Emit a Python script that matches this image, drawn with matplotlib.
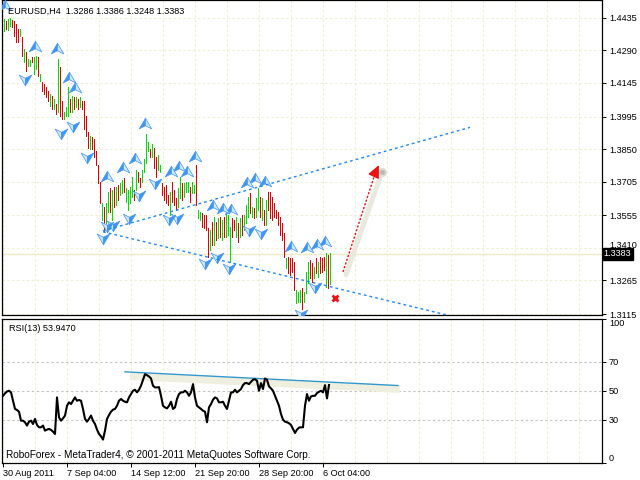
import matplotlib
matplotlib.use('Agg')
import matplotlib.pyplot as plt
import matplotlib.transforms as mtransforms
from matplotlib.path import Path
import numpy as np

# EURUSD H4 bars (high / low, G = up bar, R = down bar)
highs = [1.4430, 1.4421, 1.4430, 1.4434, 1.4425, 1.4421, 1.4407, 1.4385, 1.4385, 1.4349,
         1.4296, 1.4282, 1.4251, 1.4246, 1.4260, 1.4260, 1.4264, 1.4260, 1.4184, 1.4148,
         1.4139, 1.4126, 1.4108, 1.4094, 1.4085, 1.4072, 1.4050, 1.4251, 1.4215, 1.4063,
         1.4014, 1.4036, 1.4126, 1.4072, 1.4085, 1.4081, 1.4081, 1.4072, 1.4081, 1.4063,
         1.4063, 1.3996, 1.3925, 1.3907, 1.3902, 1.3893, 1.3840, 1.3781, 1.3705, 1.3612,
         1.3594, 1.3612, 1.3661, 1.3679, 1.3670, 1.3683, 1.3683, 1.3692, 1.3701, 1.3714,
         1.3723, 1.3679, 1.3670, 1.3683, 1.3728, 1.3670, 1.3759, 1.3746, 1.3723, 1.3759,
         1.3804, 1.3916, 1.3880, 1.3849, 1.3871, 1.3857, 1.3813, 1.3826, 1.3781, 1.3701,
         1.3683, 1.3692, 1.3647, 1.3661, 1.3705, 1.3670, 1.3634, 1.3679, 1.3728, 1.3701,
         1.3701, 1.3705, 1.3705, 1.3683, 1.3705, 1.3692, 1.3781, 1.3580, 1.3571, 1.3567,
         1.3558, 1.3558, 1.3500, 1.3491, 1.3527, 1.3549, 1.3527, 1.3545, 1.3549, 1.3536,
         1.3549, 1.3567, 1.3558, 1.3504, 1.3545, 1.3536, 1.3549, 1.3522, 1.3545, 1.3558,
         1.3558, 1.3603, 1.3638, 1.3656, 1.3594, 1.3589, 1.3634, 1.3679, 1.3638, 1.3634,
         1.3580, 1.3625, 1.3661, 1.3661, 1.3638, 1.3612, 1.3580, 1.3571, 1.3549, 1.3522,
         1.3478, 1.3366, 1.3370, 1.3366, 1.3366, 1.3348, 1.3223, 1.3214, 1.3223, 1.3232,
         1.3214, 1.3303, 1.3348, 1.3357, 1.3343, 1.3326, 1.3366, 1.3348, 1.3370, 1.3366,
         1.3370, 1.3388, 1.3379, 1.3386]
lows = [1.4376, 1.4385, 1.4380, 1.4398, 1.4394, 1.4354, 1.4327, 1.4327, 1.4354, 1.4264,
        1.4237, 1.4197, 1.4220, 1.4220, 1.4237, 1.4184, 1.4206, 1.4175, 1.4152, 1.4108,
        1.4094, 1.4081, 1.4063, 1.4041, 1.4027, 1.4027, 1.4005, 1.4014, 1.3996, 1.3983,
        1.3983, 1.3996, 1.3996, 1.4014, 1.4014, 1.4027, 1.4036, 1.4027, 1.4036, 1.4027,
        1.3938, 1.3907, 1.3857, 1.3849, 1.3849, 1.3817, 1.3781, 1.3701, 1.3612, 1.3536,
        1.3482, 1.3522, 1.3571, 1.3571, 1.3536, 1.3594, 1.3603, 1.3625, 1.3647, 1.3656,
        1.3661, 1.3616, 1.3580, 1.3612, 1.3638, 1.3625, 1.3670, 1.3705, 1.3683, 1.3705,
        1.3746, 1.3790, 1.3840, 1.3817, 1.3817, 1.3768, 1.3728, 1.3759, 1.3746, 1.3647,
        1.3625, 1.3612, 1.3603, 1.3558, 1.3616, 1.3603, 1.3580, 1.3594, 1.3634, 1.3625,
        1.3638, 1.3661, 1.3661, 1.3616, 1.3656, 1.3656, 1.3603, 1.3545, 1.3536, 1.3504,
        1.3500, 1.3491, 1.3370, 1.3402, 1.3424, 1.3424, 1.3446, 1.3455, 1.3460, 1.3446,
        1.3460, 1.3460, 1.3469, 1.3348, 1.3460, 1.3491, 1.3460, 1.3437, 1.3460, 1.3469,
        1.3491, 1.3522, 1.3549, 1.3567, 1.3549, 1.3545, 1.3549, 1.3580, 1.3549, 1.3536,
        1.3513, 1.3513, 1.3580, 1.3545, 1.3536, 1.3549, 1.3545, 1.3513, 1.3469, 1.3446,
        1.3370, 1.3321, 1.3299, 1.3290, 1.3303, 1.3223, 1.3165, 1.3169, 1.3169, 1.3138,
        1.3169, 1.3209, 1.3254, 1.3276, 1.3258, 1.3276, 1.3299, 1.3281, 1.3299, 1.3303,
        1.3312, 1.3236, 1.3232, 1.3248]
bar_dir = ("GRGGRRRRGR" "GRGGRGGRGR" "RRRGRGRGRR" "GGGRGRGRGR" "RRRGRRRRRG"
           "RGGRGRGRGG" "RGGGGRGRRG" "GGGRGRRGGR" "RRRGRRRGGR" "GGGRGGRGGR"
           "RRRGRGRGRG" "RGGGRRGRGR" "GGGRGRGGRG" "RGRRRRRRRR" "RGRRRRGGGR"
           "GGGRRGRGRR" "RGRG")

rsi = [46.5, 48.2, 49.5, 50.0, 48.9, 43.1, 37.4, 36.7, 35.5, 29.3,
       29.3, 28.2, 25.9, 28.6, 29.3, 27.0, 30.5, 26.3, 24.7, 24.7,
       25.9, 22.4, 23.1, 23.6, 22.9, 21.7, 20.1, 45.4, 31.6, 29.3,
       30.9, 32.8, 39.6, 42.0, 40.8, 43.1, 45.4, 43.1, 43.6, 43.1,
       37.4, 30.5, 28.6, 30.5, 32.8, 29.3, 27.0, 23.1, 20.1, 18.5,
       16.2, 22.4, 30.5, 33.2, 35.5, 36.9, 37.4, 39.6, 43.1, 44.3,
       43.1, 42.4, 42.0, 45.4, 47.7, 50.0, 50.7, 48.9, 50.7, 53.5,
       57.6, 61.5, 60.8, 59.9, 58.5, 53.5, 52.3, 52.3, 52.5, 46.5,
       39.6, 38.5, 37.8, 39.6, 42.4, 37.4, 38.5, 44.3, 47.7, 48.9,
       48.9, 50.0, 48.9, 46.5, 48.9, 54.6, 45.4, 39.6, 38.5, 37.4,
       36.2, 35.5, 28.2, 38.5, 40.8, 43.8, 45.4, 44.7, 42.0, 42.0,
       42.4, 39.6, 37.4, 43.1, 48.9, 48.9, 50.7, 48.9, 50.0, 51.2,
       53.9, 55.3, 55.3, 54.6, 56.2, 57.6, 58.0, 56.9, 50.0, 55.3,
       51.2, 58.5, 57.6, 53.0, 51.6, 50.0, 46.5, 43.1, 39.6, 33.9,
       30.0, 28.6, 28.2, 27.5, 26.3, 23.6, 20.8, 23.1, 24.5, 24.7,
       24.7, 39.6, 47.7, 43.1, 46.1, 46.5, 46.5, 48.4, 49.3, 50.0,
       48.9, 53.9, 44.7, 53.947]

# fractal arrows (bar index, price of arrow)
up_frac_idx = [1, 16, 27, 33, 36, 52, 60, 66, 71, 84, 88, 92, 96, 105, 110, 114,
               122, 126, 131, 144, 152, 157, 161]
up_frac_price = [1.4488, 1.4304, 1.4296, 1.4166, 1.4121, 1.3728, 1.3768, 1.3808, 1.3960,
                 1.3750, 1.3772, 1.3750, 1.3817, 1.3598, 1.3585, 1.3580, 1.3701, 1.3719,
                 1.3705, 1.3415, 1.3410, 1.3424, 1.3437]
dn_frac_idx = [11, 29, 35, 42, 50, 52, 55, 63, 68, 76, 83, 87, 101, 107, 113, 123,
               129, 149, 156]
dn_frac_price = [1.4161, 1.3920, 1.3951, 1.3817, 1.3455, 1.3509, 1.3513, 1.3545, 1.3647,
                 1.3701, 1.3540, 1.3545, 1.3343, 1.3370, 1.3321, 1.3491, 1.3477, 1.3115,
                 1.3236]

price_ticks = [1.4435, 1.4290, 1.4145, 1.3995, 1.3850, 1.3705, 1.3555, 1.3410, 1.3265, 1.3115]
price_labels = ['1.4435', '1.4290', '1.4145', '1.3995', '1.3850', '1.3705', '1.3555',
                '1.3410', '1.3265', '1.3115']
time_idx = [0, 32, 64, 96, 128, 160]
time_labels = ['30 Aug 2011', '7 Sep 04:00', '14 Sep 12:00', '21 Sep 20:00',
               '28 Sep 20:00', '6 Oct 04:00']
rsi_ticks = [0, 30, 50, 70, 100]

last_price = 1.3383
upper_line_idx = [50, 233.5]
upper_line_price = [1.3486, 1.3947]
lower_line_idx = [50, 222]
lower_line_price = [1.3482, 1.3111]
arrow_idx = [170, 188.5]
arrow_price = [1.3303, 1.3790]
cross_idx, cross_price = 166, 1.3187
rsi_line_idx = [61, 197.5]
rsi_line_val = [63.1, 53.6]
rsi_band_idx = [63.5, 198.5]
rsi_band_val = [60.1, 51.2]

plt.rcParams['font.family'] = ['Liberation Sans', 'DejaVu Sans']
FS = 6.6
W, H = 640, 480
GRID = '#eeeed2'

fig = plt.figure(figsize=(6.4, 4.8), dpi=100)
ax = fig.add_axes([2 / W, 1 - 315 / H, 600 / W, 315 / H])
ax2 = fig.add_axes([2 / W, 1 - 463 / H, 600 / W, (463 - 318.5) / H])

x = np.arange(len(highs))
cols = ['#00dd00' if d == 'G' else '#e00000' for d in bar_dir]

# --- price panel ---
ax.set_xlim(-0.5, 299.5)
ax.set_ylim(1.3111, 1.45145)
ax.set_yticks(price_ticks)
ax.set_yticklabels(price_labels)
ax.set_xticks(np.arange(0, 300, 16))
ax.tick_params(axis='x', length=0, labelbottom=False)
ax.yaxis.tick_right()
ax.tick_params(axis='y', direction='out', length=3, width=0.7, labelsize=FS, pad=2)
ax.grid(True, color=GRID, linestyle=(0, (2.2, 2.2)), linewidth=0.8)
ax.set_axisbelow(True)
for s in ax.spines.values():
    s.set_linewidth(0.9)
# the 1.3410 label sits just above the black price box
for lb in ax.get_yticklabels():
    if lb.get_text() == '1.3410':
        lb.set_transform(lb.get_transform() +
                         mtransforms.ScaledTranslation(0, 3 / 100, fig.dpi_scale_trans))

ax.axhline(last_price, color='#ecebc6', lw=1.0, zorder=1)
ax.vlines(x + 0.25, lows, highs, colors=cols, lw=0.5, zorder=3, antialiased=False)

# fractal arrows, two-tone halves
up_l = Path([(0, 1), (-1, -0.7), (0, -0.2), (0, 1)], closed=True)
up_r = Path([(0, 1), (0, -0.2), (1, -0.7), (0, 1)], closed=True)
dn_l = Path([(0, -1), (-1, 0.7), (0, 0.2), (0, -1)], closed=True)
dn_r = Path([(0, -1), (0, 0.2), (1, 0.7), (0, -1)], closed=True)
for mk, fc in ((up_l, '#3f95f2'), (up_r, '#cfe6ff')):
    ax.plot(up_frac_idx, up_frac_price, ls='none', marker=mk, ms=9, mfc=fc,
            mec='#3f95f2', mew=0.5, zorder=4)
for mk, fc in ((dn_l, '#cfe6ff'), (dn_r, '#3f95f2')):
    ax.plot(dn_frac_idx, dn_frac_price, ls='none', marker=mk, ms=9, mfc=fc,
            mec='#3f95f2', mew=0.5, zorder=4)

ax.plot(upper_line_idx, upper_line_price, color='#1e88ee', lw=1.0,
        linestyle=(0, (2, 2.2)), zorder=5)
ax.plot(lower_line_idx, lower_line_price, color='#1e88ee', lw=1.0,
        linestyle=(0, (2, 2.2)), zorder=5)

# forecast arrow with its grey shadow
ax.plot([arrow_idx[0] + 1.5, arrow_idx[1] + 1.0], [arrow_price[0] - 0.0012, arrow_price[1] - 0.0040],
        color='#e9e9dd', lw=3.6, solid_capstyle='round', zorder=2)
ax.plot([arrow_idx[1] + 1.0], [arrow_price[1] - 0.0040], 'o', ms=5, color='#b8b8b0',
        mec='#dcdcd4', mew=1.5, zorder=2)
ax.plot([arrow_idx[0], arrow_idx[1] - 2.2], [arrow_price[0], arrow_price[1] - 0.0042],
        color='#ee1111', lw=1.0, linestyle=(0, (1.6, 1.2)), zorder=6)
ax.annotate('', xy=(arrow_idx[1], arrow_price[1]),
            xytext=(arrow_idx[1] - 2.6, arrow_price[1] - 0.0050),
            arrowprops=dict(arrowstyle='-|>,head_length=0.75,head_width=0.35',
                            color='#ee1111', lw=1.0), zorder=6)
ax.plot([cross_idx], [cross_price], marker='x', ms=4.5, mew=2.0, color='#ee1111', zorder=6)

ax.text(1.003, last_price, '1.3383', transform=ax.get_yaxis_transform(), color='white',
        fontsize=FS, va='center', ha='left', zorder=10,
        bbox=dict(boxstyle='square,pad=0.12', fc='black', ec='black'))
fig.text(8 / W, 1 - 11 / H, 'EURUSD,H4  1.3286 1.3386 1.3248 1.3383', fontsize=FS,
         va='center', ha='left')

# --- RSI panel ---
ax2.set_xlim(-0.5, 299.5)
ax2.set_ylim(0, 100)
ax2.set_xticks(np.arange(0, 300, 16), minor=True)
ax2.set_xticks(time_idx)
ax2.set_xticklabels(time_labels)
ax2.tick_params(axis='x', which='major', direction='out', length=3, width=0.7,
                labelsize=FS, pad=1.5)
ax2.tick_params(axis='x', which='minor', length=0)
for lb in ax2.get_xticklabels():
    lb.set_ha('left')
ax2.grid(True, axis='x', which='both', color=GRID, linestyle=(0, (2.2, 2.2)), linewidth=0.8)
ax2.set_axisbelow(True)
for lev in (30, 50, 70):
    ax2.axhline(lev, color='#c4c4c4', lw=0.8, linestyle=(0, (2.2, 2.2)), zorder=1)
ax2.set_yticks(rsi_ticks)
ax2.set_yticklabels([str(t) for t in rsi_ticks])
ax2.yaxis.tick_right()
ax2.tick_params(axis='y', direction='out', length=3, width=0.7, labelsize=FS, pad=2)
ylabs = ax2.get_yticklabels()
ylabs[0].set_va('bottom')
ylabs[-1].set_va('top')
for s in ax2.spines.values():
    s.set_linewidth(0.9)

ax2.plot(rsi_band_idx, rsi_band_val, color='#efefe0', lw=5.5, solid_capstyle='butt', zorder=2)
ax2.plot(rsi_line_idx, rsi_line_val, color='#3399cc', lw=1.0, zorder=3)
ax2.plot(x, rsi, color='black', lw=1.5, zorder=4)

ax2.text(7 / 600, 1 - 10 / 144.5, 'RSI(13) 53.9470', transform=ax2.transAxes,
         fontsize=FS, va='center', ha='left')
ax2.text(4 / 600, 8 / 144.5, 'RoboForex - MetaTrader4, \u00a9 2001-2011 MetaQuotes Software Corp.',
         transform=ax2.transAxes, fontsize=7.2, va='center', ha='left')

fig.savefig('out.png', dpi=100, facecolor='white')
